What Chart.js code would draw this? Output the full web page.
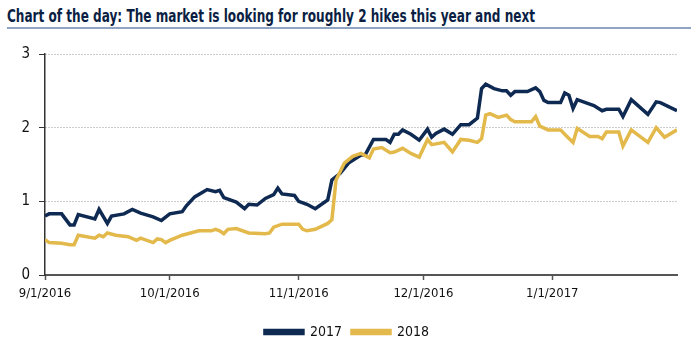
<!DOCTYPE html>
<html>
<head>
<meta charset="utf-8">
<script src="https://cdn.jsdelivr.net/npm/chart.js@4.4.1/dist/chart.umd.min.js"></script>
<style>
  body { margin: 0; background: #fff; width: 699px; height: 349px; overflow: hidden; position: relative; }
  #title {
    position: absolute; left: 7px; top: 6px; width: 684px; height: 21px;
    border-bottom: 2px solid #8fa3c2; white-space: nowrap;
  }
  #title span {
    display: inline-block; transform: scaleX(0.79); transform-origin: 0 0;
    font-family: "Liberation Sans Narrow", "DejaVu Sans Condensed", "Roboto", sans-serif;
    font-weight: bold; font-size: 17px; color: #0b1f44;
  }
  #wrap { position: absolute; left: 0; top: 35px; }
</style>
</head>
<body>
<div id="title"><span>Chart of the day: The market is looking for roughly 2 hikes this year and next</span></div>
<div id="wrap"><canvas id="fedChart" width="699" height="314"></canvas></div>
<script>
var startDate = '2016-09-01';
var tickDates = ['2016-09-01', '2016-10-01', '2016-11-01', '2016-12-01', '2017-01-01'];
var tickLabels = ['9/1/2016', '10/1/2016', '11/1/2016', '12/1/2016', '1/1/2017'];
var endDate = '2017-01-31';

var dates2017 = ['2016-09-01','2016-09-02','2016-09-05','2016-09-07','2016-09-08','2016-09-09','2016-09-13','2016-09-14','2016-09-16','2016-09-17',
  '2016-09-20','2016-09-22','2016-09-24','2016-09-27','2016-09-29','2016-10-01','2016-10-04','2016-10-05','2016-10-07','2016-10-10',
  '2016-10-12','2016-10-13','2016-10-14','2016-10-17','2016-10-19','2016-10-20','2016-10-22','2016-10-24','2016-10-26','2016-10-27',
  '2016-10-28','2016-10-31','2016-11-01','2016-11-03','2016-11-05','2016-11-08','2016-11-09','2016-11-11','2016-11-13','2016-11-16',
  '2016-11-17','2016-11-19','2016-11-22','2016-11-23','2016-11-24','2016-11-25','2016-11-26','2016-11-28','2016-11-30','2016-12-02',
  '2016-12-03','2016-12-04','2016-12-06','2016-12-08','2016-12-10','2016-12-12','2016-12-14','2016-12-15','2016-12-16','2016-12-18',
  '2016-12-20','2016-12-21','2016-12-22','2016-12-23','2016-12-26','2016-12-28','2016-12-29','2016-12-30','2016-12-31','2017-01-03',
  '2017-01-04','2017-01-05','2017-01-06','2017-01-07','2017-01-10','2017-01-11','2017-01-13','2017-01-14','2017-01-17','2017-01-18',
  '2017-01-20','2017-01-24','2017-01-26','2017-01-27','2017-01-31'];
var values2017 = [0.80,0.83,0.83,0.68,0.68,0.82,0.76,0.89,0.70,0.80,
  0.83,0.89,0.84,0.79,0.74,0.83,0.86,0.94,1.06,1.16,
  1.13,1.15,1.05,0.99,0.90,0.96,0.95,1.04,1.09,1.18,
  1.10,1.08,1.00,0.96,0.90,1.02,1.29,1.38,1.52,1.63,
  1.63,1.84,1.84,1.80,1.91,1.91,1.97,1.91,1.83,1.98,
  1.87,1.92,1.98,1.91,2.04,2.04,2.13,2.53,2.59,2.53,
  2.50,2.50,2.44,2.49,2.49,2.54,2.49,2.37,2.34,2.34,
  2.47,2.44,2.26,2.38,2.32,2.30,2.23,2.25,2.25,2.15,
  2.38,2.18,2.35,2.34,2.23];

var dates2018 = ['2016-09-01','2016-09-02','2016-09-05','2016-09-07','2016-09-08','2016-09-09','2016-09-13','2016-09-14','2016-09-15','2016-09-16',
  '2016-09-18','2016-09-21','2016-09-23','2016-09-24','2016-09-27','2016-09-28','2016-09-29','2016-09-30','2016-10-01','2016-10-04',
  '2016-10-08','2016-10-11','2016-10-12','2016-10-13','2016-10-14','2016-10-15','2016-10-17','2016-10-20','2016-10-24','2016-10-25',
  '2016-10-26','2016-10-28','2016-11-01','2016-11-02','2016-11-03','2016-11-05','2016-11-08','2016-11-09','2016-11-10','2016-11-12',
  '2016-11-14','2016-11-16','2016-11-18','2016-11-19','2016-11-21','2016-11-23','2016-11-24','2016-11-26','2016-11-28','2016-11-30',
  '2016-12-02','2016-12-03','2016-12-06','2016-12-08','2016-12-10','2016-12-12','2016-12-14','2016-12-15','2016-12-16','2016-12-17',
  '2016-12-19','2016-12-21','2016-12-22','2016-12-23','2016-12-27','2016-12-28','2016-12-29','2016-12-31','2017-01-03','2017-01-04',
  '2017-01-06','2017-01-07','2017-01-10','2017-01-12','2017-01-13','2017-01-14','2017-01-17','2017-01-18','2017-01-20','2017-01-24',
  '2017-01-26','2017-01-28','2017-01-31'];
var values2018 = [0.48,0.44,0.43,0.41,0.41,0.54,0.50,0.54,0.52,0.57,
  0.54,0.52,0.47,0.50,0.44,0.49,0.48,0.44,0.47,0.54,
  0.60,0.60,0.62,0.60,0.56,0.62,0.63,0.57,0.56,0.57,
  0.65,0.69,0.69,0.62,0.60,0.62,0.70,0.75,1.29,1.52,
  1.61,1.65,1.59,1.71,1.73,1.66,1.67,1.72,1.65,1.60,
  1.84,1.77,1.80,1.67,1.84,1.83,1.80,1.85,2.17,2.19,
  2.14,2.17,2.11,2.08,2.08,2.15,2.02,1.97,1.97,1.91,
  1.80,1.99,1.88,1.88,1.85,1.94,1.94,1.75,1.97,1.80,
  2.00,1.87,1.97];

var yTicks = [0, 1, 2, 3];

// days since start, so the linear x scale spaces the dates properly
function dayNum(d) {
    return Math.round((Date.parse(d) - Date.parse(startDate)) / 86400000);
}
function toPoints(dates, values) {
    return dates.map(function(d, i) { return { x: dayNum(d), y: values[i] }; });
}

var tickDays = tickDates.map(dayNum);
var narrow = '"Liberation Sans Narrow", "DejaVu Sans Condensed", "Roboto", sans-serif';

new Chart(document.getElementById('fedChart').getContext('2d'), {
    type: 'line',
    data: {
        datasets: [{
            label: '2017',
            data: toPoints(dates2017, values2017),
            borderColor: '#0f2a52',
            backgroundColor: '#0f2a52',
            borderWidth: 3.5,
            pointRadius: 0,
            tension: 0,
            order: 1
        }, {
            label: '2018',
            data: toPoints(dates2018, values2018),
            borderColor: '#e3b94b',
            backgroundColor: '#e3b94b',
            borderWidth: 3.5,
            pointRadius: 0,
            tension: 0,
            order: 0
        }]
    },
    options: {
        responsive: false,
        animation: false,
        layout: { padding: { top: 19, right: 22, left: 17, bottom: 0 } },
        plugins: {
            tooltip: { enabled: false },
            legend: {
                position: 'bottom',
                labels: {
                    sort: function(a, b) { return a.datasetIndex - b.datasetIndex; },
                    boxWidth: 38,
                    boxHeight: 3,
                    padding: 10,
                    color: '#111',
                    font: { family: narrow, size: 14 }
                }
            }
        },
        scales: {
            x: {
                type: 'linear',
                min: 0,
                max: dayNum(endDate),
                afterBuildTicks: function(scale) {
                    scale.ticks = tickDays.map(function(v) { return { value: v }; });
                },
                afterFit: function(scale) { scale.height = 40; },
                grid: { drawOnChartArea: false, drawTicks: true, tickLength: 5, tickColor: '#555', tickWidth: 1.5 },
                border: { color: '#555', width: 2 },
                ticks: {
                    autoSkip: false,
                    maxRotation: 0,
                    padding: 6,
                    color: '#111',
                    font: { family: narrow, size: 13 },
                    callback: function(value) {
                        var i = tickDays.indexOf(value);
                        return i >= 0 ? tickLabels[i] : '';
                    }
                }
            },
            y: {
                min: 0,
                max: 3,
                afterBuildTicks: function(scale) {
                    scale.ticks = yTicks.map(function(v) { return { value: v }; });
                },
                afterFit: function(scale) { scale.width = 28; },
                grid: { color: '#9a9a9a', lineWidth: 1, drawTicks: true, tickLength: 6, tickColor: '#333', tickBorderDash: [] },
                border: { color: '#333', width: 1.5, dash: [1, 2] },
                ticks: {
                    padding: 9,
                    color: '#111',
                    font: { family: narrow, size: 15 }
                }
            }
        }
    }
});
</script>
</body>
</html>
